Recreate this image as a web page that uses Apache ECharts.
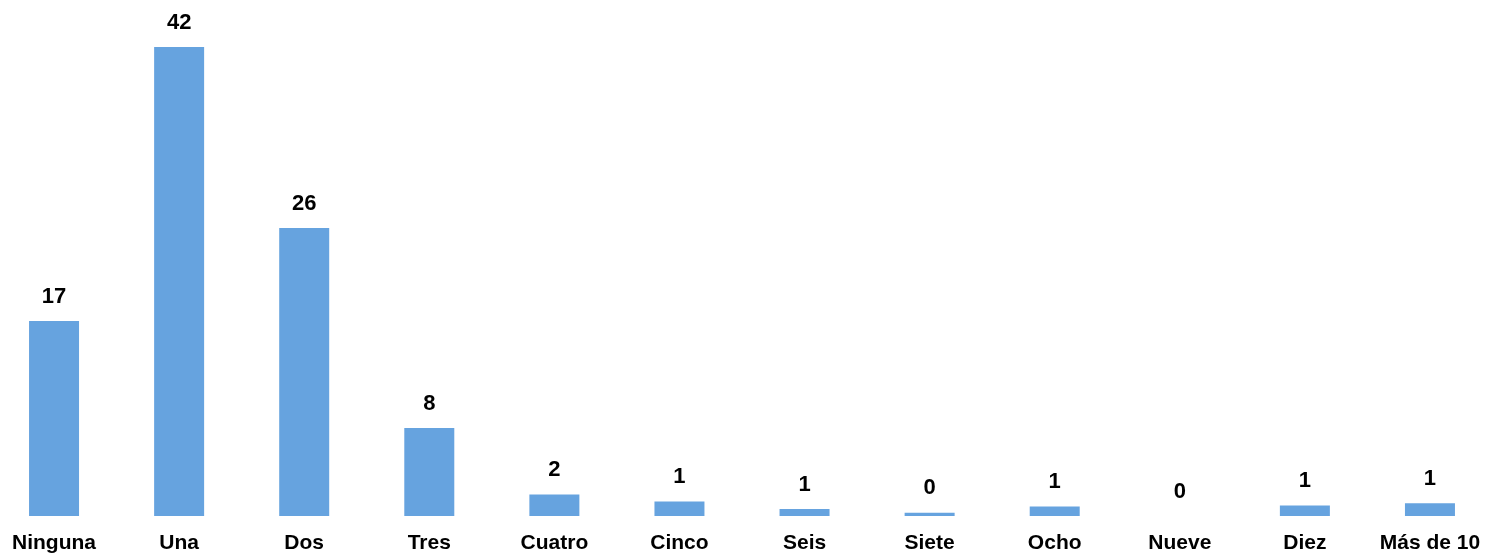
<!DOCTYPE html>
<html>
<head>
<meta charset="utf-8">
<script src="https://cdn.jsdelivr.net/npm/echarts@6/dist/echarts.min.js"></script>
<style>
html,body{margin:0;padding:0;background:#fff;}
#chart{width:1486px;height:554px;}
</style>
</head>
<body>
<div id="chart"></div>
<script>
const categories = ['Ninguna','Una','Dos','Tres','Cuatro','Cinco','Seis','Siete','Ocho','Nueve','Diez','Más de 10'];
const values = [17.41, 41.88, 25.71, 7.86, 1.91, 1.29, 0.63, 0.30, 0.84, 0, 0.93, 1.13];
const yMax = 45;

const chart = echarts.init(document.getElementById('chart'), null, {renderer:'canvas'});
chart.setOption({
  animation: false,
  backgroundColor: '#ffffff',
  grid: {left: -8.5, right: -6.5, top: 12, bottom: 38, outerBoundsMode: 'none', containLabel: false},
  xAxis: {
    type: 'category',
    data: categories,
    axisLine: {show: false},
    axisTick: {show: false},
    axisLabel: {
      interval: 0,
      margin: 17,
      color: '#000',
      fontFamily: 'Liberation Sans, Arial, sans-serif',
      fontWeight: 'bold',
      fontSize: 21
    }
  },
  yAxis: {
    type: 'value',
    min: 0,
    max: yMax,
    show: false,
    splitLine: {show: false}
  },
  series: [{
    type: 'bar',
    data: values,
    barWidth: 50,
    itemStyle: {color: '#66a3df'},
    label: {
      show: true,
      position: 'top',
      distance: 13.5,
      color: '#000',
      fontFamily: 'Liberation Sans Narrow, Arial Narrow, Liberation Sans, sans-serif',
      fontWeight: 'bold',
      fontSize: 22,
      formatter: p => String(Math.round(p.value))
    }
  }]
});
</script>
</body>
</html>
